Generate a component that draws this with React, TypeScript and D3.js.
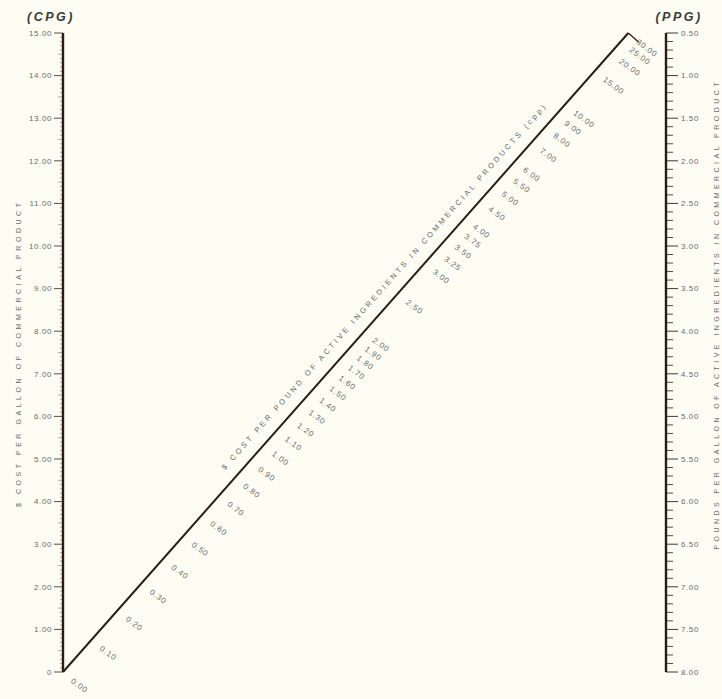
import React from "react";
import * as d3 from "d3";

const W = 722;
const H = 699;

// Left scale: cost per gallon of commercial product (CPG)
const cpgTicks = [0, 1, 2, 3, 4, 5, 6, 7, 8, 9, 10, 11, 12, 13, 14, 15];
const cpgLabels = ["0", "1.00", "2.00", "3.00", "4.00", "5.00", "6.00", "7.00", "8.00", "9.00", "10.00", "11.00", "12.00", "13.00", "14.00", "15.00"];

// Right scale: pounds per gallon of active ingredients (PPG)
const ppgTicks = [0.5, 1.0, 1.5, 2.0, 2.5, 3.0, 3.5, 4.0, 4.5, 5.0, 5.5, 6.0, 6.5, 7.0, 7.5, 8.0];
const ppgLabels = ["0.50", "1.00", "1.50", "2.00", "2.50", "3.00", "3.50", "4.00", "4.50", "5.00", "5.50", "6.00", "6.50", "7.00", "7.50", "8.00"];

// Diagonal scale: cost per pound of active ingredients (CPP)
const cppValues = [0, 0.1, 0.2, 0.3, 0.4, 0.5, 0.6, 0.7, 0.8, 0.9, 1.0, 1.1, 1.2, 1.3, 1.4, 1.5, 1.6, 1.7, 1.8, 1.9, 2.0, 2.5, 3.0, 3.25, 3.5, 3.75, 4.0, 4.5, 5.0, 5.5, 6.0, 7.0, 8.0, 9.0, 10.0, 15.0, 20.0, 25.0, 30.0];
const cppLabels = ["0.00", "0.10", "0.20", "0.30", "0.40", "0.50", "0.60", "0.70", "0.80", "0.90", "1.00", "1.10", "1.20", "1.30", "1.40", "1.50", "1.60", "1.70", "1.80", "1.90", "2.00", "2.50", "3.00", "3.25", "3.50", "3.75", "4.00", "4.50", "5.00", "5.50", "6.00", "7.00", "8.00", "9.00", "10.00", "15.00", "20.00", "25.00", "30.00"];

const leftUnit = "(CPG)";
const rightUnit = "(PPG)";
const leftTitle = "$  COST  PER  GALLON  OF  COMMERCIAL  PRODUCT";
const rightTitle = "POUNDS  PER  GALLON  OF  ACTIVE  INGREDIENTS  IN  COMMERCIAL  PRODUCT";
const diagTitle = "$  COST  PER  POUND  OF  ACTIVE  INGREDIENTS  IN  COMMERCIAL  PRODUCTS (cpp)";

const INK = "#2a1c16";
const GREY = "#6b6b66";
const FONT = "'Liberation Sans', Arial, sans-serif";

export default function App() {
  const xL = 63;
  const xR = 666;
  const yC = d3.scaleLinear().domain([0, 15]).range([672, 33]);
  const yP = d3.scaleLinear().domain([0.5, 8]).range([33, 672]);

  const O: [number, number] = [xL, yC(0)];
  const P: [number, number] = [xR, yP(0)];
  const dR = yP(1) - yP(0);
  const diag = (a: number): [number, number] => {
    const dL = yC(0) - yC(a);
    const f = dL / (dL + dR);
    return [O[0] + f * (P[0] - O[0]), O[1] + f * (P[1] - O[1])];
  };
  const len = Math.hypot(P[0] - O[0], P[1] - O[1]);
  const ux = (P[0] - O[0]) / len;
  const uy = (P[1] - O[1]) / len;
  const nx = -uy; // normal pointing down-right
  const ny = ux;
  const angle = (Math.atan2(uy, ux) * 180) / Math.PI;

  const cppMax = cppValues[cppValues.length - 1];
  const end = diag(cppMax);

  const leftMinor = d3.range(0, 15.0001, 0.1).filter((v) => Math.abs(v - Math.round(v)) > 0.01);
  const rightMinor = d3.range(0.5, 8.0001, 0.1).filter((v) => Math.abs(v * 2 - Math.round(v * 2)) > 0.01);

  const tMid = 0.55 * len;
  const titleC: [number, number] = [O[0] + ux * tMid - nx * 15, O[1] + uy * tMid - ny * 15];

  return (
    <svg
      width={W}
      height={H}
      viewBox={`0 0 ${W} ${H}`}
      style={{ position: "absolute", left: 0, top: 0, display: "block" }}
      fontFamily={FONT}
    >
      <rect x={0} y={0} width={W} height={H} fill="#fdfdf4" />

      {/* unit headings */}
      <text x={51} y={21} textAnchor="middle" fontSize={12.5} fontWeight="bold" fontStyle="italic" letterSpacing={2.5} fill="#3a3a36">
        {leftUnit}
      </text>
      <text x={679} y={21} textAnchor="middle" fontSize={12.5} fontWeight="bold" fontStyle="italic" letterSpacing={2.5} fill="#3a3a36">
        {rightUnit}
      </text>

      {/* left axis */}
      {leftMinor.map((v, i) => (
        <line key={"lm" + i} x1={xL - (Math.abs(v * 2 - Math.round(v * 2)) < 0.01 ? 5 : 3)} x2={xL} y1={yC(v)} y2={yC(v)} stroke="#8a8a84" strokeWidth={0.7} />
      ))}
      {cpgTicks.map((v, i) => (
        <g key={"lt" + i}>
          <line x1={xL - 9} x2={xL} y1={yC(v)} y2={yC(v)} stroke="#55524d" strokeWidth={1} />
          <text x={xL - 11} y={yC(v)} dy="0.35em" textAnchor="end" fontSize={8} letterSpacing={0.6} fill={GREY}>
            {cpgLabels[i]}
          </text>
        </g>
      ))}
      <line x1={xL} x2={xL} y1={yC(15)} y2={yC(0)} stroke={INK} strokeWidth={2.4} />

      {/* right axis */}
      {rightMinor.map((v, i) => (
        <line key={"rm" + i} x1={xR} x2={xR + 7} y1={yP(v)} y2={yP(v)} stroke="#3d3833" strokeWidth={0.9} />
      ))}
      {ppgTicks.map((v, i) => (
        <g key={"rt" + i}>
          <line x1={xR} x2={xR + 12} y1={yP(v)} y2={yP(v)} stroke="#3d3833" strokeWidth={1} />
          <text x={xR + 15} y={yP(v)} dy="0.35em" textAnchor="start" fontSize={8} letterSpacing={0.6} fill={GREY}>
            {ppgLabels[i]}
          </text>
        </g>
      ))}
      <line x1={xR} x2={xR} y1={yP(0.5)} y2={yP(8)} stroke={INK} strokeWidth={2.4} />

      {/* diagonal */}
      <line x1={O[0]} y1={O[1]} x2={end[0]} y2={end[1]} stroke={INK} strokeWidth={2} />
      <line x1={end[0]} y1={end[1]} x2={end[0] + nx * 14} y2={end[1] + ny * 14} stroke={INK} strokeWidth={1.3} />
      {cppValues.map((v, i) => {
        const p = diag(v);
        const sx = p[0] + nx * 12;
        const sy = p[1] + ny * 12;
        return (
          <text key={"cp" + i} transform={`translate(${sx},${sy}) rotate(36)`} dy="0.35em" fontSize={8} letterSpacing={0.8} fill={GREY}>
            {cppLabels[i]}
          </text>
        );
      })}

      {/* axis titles */}
      <text transform={`translate(21,355) rotate(-90)`} textAnchor="middle" fontSize={7} textLength={304} lengthAdjust="spacing" fill={GREY}>
        {leftTitle}
      </text>
      <text transform={`translate(719,316) rotate(-90)`} textAnchor="middle" fontSize={7} textLength={467} lengthAdjust="spacing" fill={GREY}>
        {rightTitle}
      </text>
      <text transform={`translate(${titleC[0]},${titleC[1]}) rotate(${angle})`} textAnchor="middle" dy="0.35em" fontSize={7.5} textLength={484} lengthAdjust="spacing" fill={GREY}>
        {diagTitle}
      </text>
    </svg>
  );
}
